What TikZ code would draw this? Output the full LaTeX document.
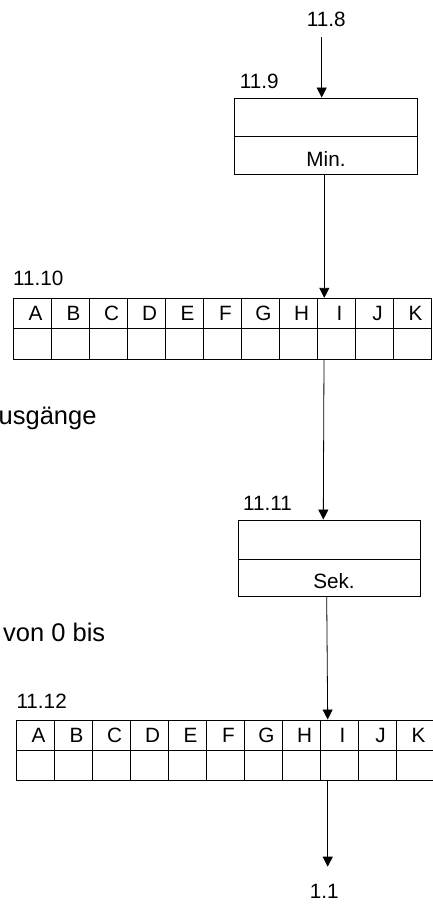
\documentclass[tikz,border=0pt]{standalone}
\usepackage{fontspec}
\setmainfont{Liberation Sans}
\usetikzlibrary{arrows.meta}
\begin{document}
\begin{tikzpicture}[x=1pt,y=-1pt,
  cellbox/.style={draw, line width=0.9pt, inner sep=0pt, minimum width=38pt, font=\fontsize{20.7}{24}\selectfont},
  boxpart/.style={draw, line width=0.9pt, inner sep=0pt, minimum width=182.4pt},
  lbl/.style={inner sep=0pt, font=\fontsize{20.7}{24}\selectfont},
  bigtxt/.style={inner sep=0pt, font=\fontsize{25.5}{30}\selectfont},
  conn/.style={line width=0.8pt, -{Triangle[width=10pt,length=10pt]}}]
\fill[white] (0,0) rectangle (433,904);
\useasboundingbox (0,0) rectangle (433,904);
% box 11.9
\node[boxpart, minimum height=38.7pt] (b1top) at (326,117.35) {};
\node[boxpart, minimum height=37.3pt] (b1bot) at (326,155.35) {};
\node[lbl, anchor=base] (tmin) at (326,166.7) {Min.};
% box 11.11
\node[boxpart, minimum height=39pt] (b2top) at (329.5,539.5) {};
\node[boxpart, minimum height=37.7pt] (b2bot) at (329.5,577.85) {};
\node[lbl, anchor=base] (tsek) at (334,588.3) {Sek.};
% tables
\foreach \L [count=\i] in {A,B,C,D,E,F,G,H,I,J,K} {
  \node[cellbox, minimum height=30pt] (t1h\i) at ({13+38*(\i-0.5)},313.3) {\hspace*{7pt}\L};
  \node[cellbox, minimum height=30.7pt] (t1c\i) at ({13+38*(\i-0.5)},343.65) {};
  \node[cellbox, minimum height=30pt] (t2h\i) at ({16+38*(\i-0.5)},735) {\hspace*{7pt}\L};
  \node[cellbox, minimum height=30.7pt] (t2c\i) at ({16+38*(\i-0.5)},765.35) {};
}
% labels
\node[lbl, anchor=base] (l118) at (326.3,26.7) {11.8};
\node[lbl, anchor=base west] (l119) at (239.7,88.3) {11.9};
\node[lbl, anchor=base west] (l1110) at (13,285) {11.10};
\node[bigtxt, anchor=base west] (taus) at (-1.5,424) {usgänge};
\node[lbl, anchor=base west] (l1111) at (243,510) {11.11};
\node[bigtxt, anchor=base west] (tvon) at (3,641) {von 0 bis};
\node[lbl, anchor=base west] (l1112) at (16.3,708.3) {11.12};
\node[lbl, anchor=base] (l11) at (324.2,898.5) {1.1};
% connectors
\coordinate (c0) at (321.7,37);
\draw[conn] (c0) -- (c0 |- b1top.north);
\draw[conn] ([xshift=-1.7pt]b1bot.south) -- ([xshift=-1.7pt]b1bot.south |- t1h9.north);
\draw[conn] ([xshift=-12pt]t1c9.south) -- ([xshift=-6.2pt]b2top.north);
\draw[conn] ([xshift=-2.8pt]b2bot.south) -- ([xshift=-11.3pt]t2h9.north);
\coordinate (c1) at (327.7,866.7);
\draw[conn] ([xshift=-11.3pt]t2c9.south) -- (c1);
\end{tikzpicture}
\end{document}
